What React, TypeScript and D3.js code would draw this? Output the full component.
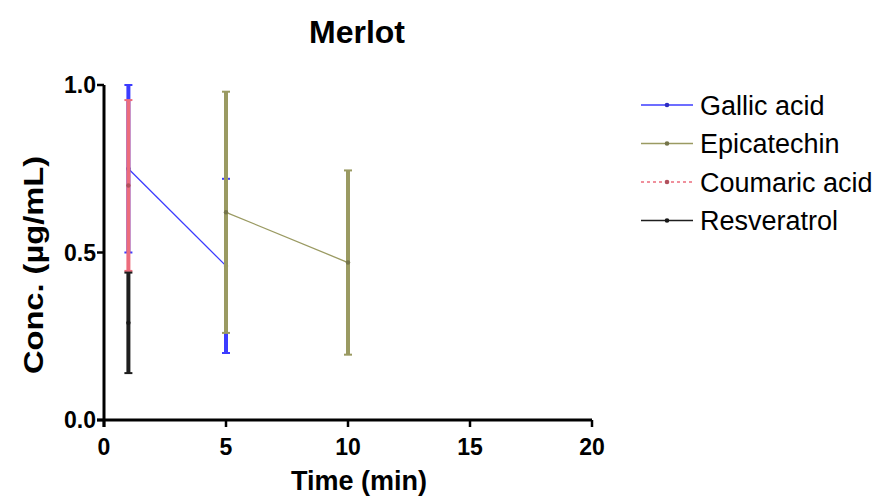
import React from 'react';
import * as d3 from 'd3';

const seriesNames = ['Gallic acid', 'Epicatechin', 'Coumaric acid', 'Resveratrol'];
const seriesColors = ['#3c3cff', '#9a9a62', '#ec6c7c', '#1e1e1e'];

const gallicTime = [1, 5];
const gallicMean = [0.75, 0.46];
const gallicErr = [0.25, 0.26];

const epiTime = [5, 10];
const epiMean = [0.62, 0.47];
const epiErr = [0.36, 0.275];

const coumTime = [1];
const coumMean = [0.70];
const coumErr = [0.255];

const resvTime = [1];
const resvMean = [0.29];
const resvErr = [0.15];

const xTicks = [0, 5, 10, 15, 20];
const yTicks = [0, 0.5, 1.0];

const W = 888, H = 502;
const font = '"Liberation Sans", Arial, sans-serif';

const App = () => {
  const x = d3.scaleLinear().domain([0, 20]).range([104, 592]);
  const y = d3.scaleLinear().domain([0, 1]).range([420, 85]);
  const line = d3.line<[number, number]>().x(d => x(d[0])).y(d => y(d[1]));

  const series = [
    {t: gallicTime, m: gallicMean, e: gallicErr, dash: undefined},
    {t: epiTime, m: epiMean, e: epiErr, dash: undefined},
    {t: coumTime, m: coumMean, e: coumErr, dash: '3,3'},
    {t: resvTime, m: resvMean, e: resvErr, dash: undefined},
  ];

  return <svg width={W} height={H} style={{position: 'absolute', left: 0, top: 0, background: '#fff'}} fontFamily={font}>
    <text x={357} y={43} textAnchor="middle" fontSize={32} fontWeight="bold">Merlot</text>

    {series.map((s, i) => {
      const c = seriesColors[i];
      const pts = s.t.map((t, j) => [t, s.m[j]] as [number, number]);
      return <g key={i}>
        {pts.length > 1 && <path d={line(pts) || ''} fill="none" stroke={c} strokeWidth={1.3} strokeDasharray={s.dash} />}
        {s.t.map((t, j) => {
          const cx = x(t);
          const top = y(s.m[j] + s.e[j]);
          const bot = y(s.m[j] - s.e[j]);
          return <g key={j}>
            <line x1={cx} x2={cx} y1={top} y2={bot} stroke={c} strokeWidth={4} />
            <line x1={cx - 4} x2={cx + 4} y1={top} y2={top} stroke={c} strokeWidth={2} />
            <line x1={cx - 4} x2={cx + 4} y1={bot} y2={bot} stroke={c} strokeWidth={2} />
            <circle cx={cx} cy={y(s.m[j])} r={2.2} fill={d3.color(c)!.darker(0.8).toString()} />
          </g>;
        })}
      </g>;
    })}

    {/* axes */}
    <line x1={x(0)} x2={x(0)} y1={y(1)} y2={y(0) + 7} stroke="#000" strokeWidth={3} />
    <line x1={x(0) - 7} x2={x(20)} y1={y(0)} y2={y(0)} stroke="#000" strokeWidth={3} />
    {yTicks.map(v => <g key={v}>
      <line x1={x(0) - 7} x2={x(0)} y1={y(v)} y2={y(v)} stroke="#000" strokeWidth={2.5} />
      <text x={x(0) - 8} y={y(v)} dy="0.36em" textAnchor="end" fontSize={23} fontWeight="bold">{d3.format('.1f')(v)}</text>
    </g>)}
    {xTicks.map(v => <g key={v}>
      <line x1={x(v)} x2={x(v)} y1={y(0)} y2={y(0) + 7} stroke="#000" strokeWidth={2.5} />
      <text x={x(v)} y={y(0) + 35} textAnchor="middle" fontSize={23} fontWeight="bold">{v}</text>
    </g>)}
    <text x={359} y={490} textAnchor="middle" fontSize={27} fontWeight="bold">Time (min)</text>
    <text transform={`translate(43 ${265}) rotate(-90)`} textAnchor="middle" fontSize={27} fontWeight="bold"
      textLength={218} lengthAdjust="spacingAndGlyphs">Conc. (µg/mL)</text>

    {/* legend */}
    {seriesNames.map((n, i) => {
      const ly = 105 + i * 38.5;
      const c = seriesColors[i];
      return <g key={n}>
        <line x1={641} x2={693} y1={ly} y2={ly} stroke={c} strokeWidth={1.5} strokeDasharray={series[i].dash} />
        <circle cx={667} cy={ly} r={2.3} fill={d3.color(c)!.darker(0.8).toString()} />
        <text x={700} y={ly} dy="0.36em" fontSize={27}>{n}</text>
      </g>;
    })}
  </svg>;
};

export default App;
